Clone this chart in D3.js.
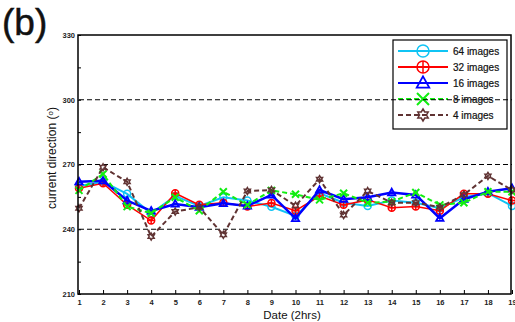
<!DOCTYPE html>
<html>
<head>
<meta charset="utf-8">
<script src="https://cdn.jsdelivr.net/npm/d3@7"></script>
<style>
  body { margin: 0; background: #fff; }
  svg { display: block; font-family: "Liberation Sans", Arial, sans-serif; }
</style>
</head>
<body>
<div id="chart"></div>
<script>
"use strict";

// x positions (Date, 2hrs)
var dates = d3.range(1, 20);
var yTicks = [210, 240, 270, 300, 330];
var gridLines = [240, 270, 300];

// current direction readings per image count
var img64 = [260, 262, 256.4, 247.4, 255.4, 250.8, 254.8, 253.3, 250.4, 246.2, 256.7, 252.3, 250.8, 253.3, 252.3, 249.7, 254.8, 256.7, 250.8];
var img32 = [259, 261.3, 251.3, 244, 256.7, 251.3, 252.3, 250.5, 252.2, 248.6, 255.4, 251.3, 253.6, 250, 250.5, 248.6, 256.4, 256.4, 253.3];
var img16 = [262, 262.5, 253.3, 248.5, 251.7, 250.2, 252, 250.8, 255.9, 245, 258.2, 253.9, 254.8, 257, 255.9, 245.1, 253.9, 257.4, 259];
var img8  = [258, 265.6, 250.5, 247.4, 254.8, 248.6, 257.4, 251.3, 258, 256.2, 253.6, 256.7, 252.3, 252.8, 257, 251.3, 252.3, 257.4, 257.4];
var img4  = [249.7, 268.7, 262, 236.6, 248.2, 250.2, 237.4, 257.7, 258.2, 250.9, 263.2, 246.6, 257.7, 252.3, 252.3, 250.2, 256, 264.7, 258.2];

var seriesNames = ["64 images", "32 images", "16 images", "8 images", "4 images"];
var seriesColors = ["#10c4f4", "#ff0000", "#0000ff", "#11ee11", "#603333"];
var seriesMarkers = ["circle", "circleplus", "triangle", "x", "hexagram"];
var seriesDashed = [false, false, false, true, true];
var seriesWidths = [2, 1.5, 2.5, 2, 2];

var series = [img64, img32, img16, img8, img4].map(function (vals, i) {
  return {
    name: seriesNames[i],
    color: seriesColors[i],
    marker: seriesMarkers[i],
    dashed: seriesDashed[i],
    width: seriesWidths[i],
    values: vals.map(function (v, j) { return { x: dates[j], y: v }; })
  };
});

var width = 515, height = 322;
var margin = { top: 35, right: 4, bottom: 28, left: 78 };

var svg = d3.select("#chart").append("svg")
  .attr("width", width)
  .attr("height", height);

var x = d3.scaleLinear().domain([1, 19]).range([margin.left + 1, 512]);
var y = d3.scaleLinear().domain([210, 330]).range([height - margin.bottom, margin.top]);

/** draws one marker shape centred at 0,0 */
function drawMarker(g, kind, color, r) {
  if (kind === "circle") {
    g.append("circle").attr("r", r).attr("fill", "none")
      .attr("stroke", color).attr("stroke-width", 1.5);
  } else if (kind === "circleplus") {
    g.append("circle").attr("r", r).attr("fill", "none")
      .attr("stroke", color).attr("stroke-width", 1.5);
    g.append("path").attr("d", "M" + (-r) + ",0H" + r + "M0," + (-r) + "V" + r)
      .attr("stroke", color).attr("stroke-width", 1.5);
  } else if (kind === "triangle") {
    var h = r * 1.1;
    g.append("path")
      .attr("d", "M0," + (-h) + "L" + (h * 0.95) + "," + (h * 0.7) + "L" + (-h * 0.95) + "," + (h * 0.7) + "Z")
      .attr("fill", "none").attr("stroke", color).attr("stroke-width", 1.8);
  } else if (kind === "x") {
    g.append("path")
      .attr("d", "M" + (-r) + "," + (-r) + "L" + r + "," + r + "M" + (-r) + "," + r + "L" + r + "," + (-r))
      .attr("stroke", color).attr("stroke-width", 2);
  } else if (kind === "hexagram") {
    var pts = d3.range(12).map(function (i) {
      var rad = i % 2 === 0 ? r : r * 0.58;
      var a = (-90 + i * 30) * Math.PI / 180;
      return [rad * Math.cos(a), rad * Math.sin(a)];
    });
    g.append("path").attr("d", "M" + pts.join("L") + "Z")
      .attr("fill", "none").attr("stroke", color).attr("stroke-width", 1.5);
  }
}

// dashed grid lines at 240 and 270 (300 drawn later, above legend)
svg.selectAll(".grid").data(gridLines.filter(function (d) { return d !== 300; }))
  .enter().append("line")
  .attr("class", "grid")
  .attr("x1", x(1)).attr("x2", x(19))
  .attr("y1", function (d) { return y(d); })
  .attr("y2", function (d) { return y(d); })
  .attr("stroke", "#000").attr("stroke-width", 1.2)
  .attr("stroke-dasharray", "5,3");

// series lines
var line = d3.line().x(function (d) { return x(d.x); }).y(function (d) { return y(d.y); });

series.forEach(function (s) {
  var g = svg.append("g");
  g.append("path")
    .datum(s.values)
    .attr("d", line)
    .attr("fill", "none")
    .attr("stroke", s.color)
    .attr("stroke-width", s.width)
    .attr("stroke-dasharray", s.dashed ? "5,3" : null);
  s.values.forEach(function (d) {
    var m = g.append("g").attr("transform", "translate(" + x(d.x) + "," + y(d.y) + ")");
    drawMarker(m, s.marker, s.color, 3.5);
  });
});

// axes
var yAxis = d3.axisLeft(y).tickValues(d3.range(210, 331, 15)).tickSize(-3)
  .tickFormat(function (d) { return yTicks.indexOf(d) >= 0 ? d : ""; });
var gy = svg.append("g").attr("transform", "translate(" + margin.left + ",0)").call(yAxis);
gy.select(".domain").remove();
gy.selectAll("text").attr("x", -3).style("font-size", "7.5px").style("font-weight", "bold").attr("fill", "#222");

var xAxis = d3.axisBottom(x).tickValues(dates).tickSize(-4).tickFormat(d3.format("d"));
var gx = svg.append("g").attr("transform", "translate(0," + y(210) + ")").call(xAxis);
gx.select(".domain").remove();
gx.selectAll("text").attr("y", 6).style("font-size", "7.5px").style("font-weight", "bold").attr("fill", "#222");

// plot frame
svg.append("rect")
  .attr("x", margin.left).attr("y", y(330))
  .attr("width", 511 - margin.left).attr("height", y(210) - y(330))
  .attr("fill", "none").attr("stroke", "#000").attr("stroke-width", 1.5);

// legend
var legend = svg.append("g").attr("transform", "translate(393,40)");
legend.append("rect").attr("width", 114).attr("height", 89)
  .attr("fill", "#fff").attr("stroke", "#000").attr("stroke-width", 1.2);
series.forEach(function (s, i) {
  var ly = 11 + i * 16;
  legend.append("line").attr("x1", 5).attr("x2", 55).attr("y1", ly).attr("y2", ly)
    .attr("stroke", s.color).attr("stroke-width", 1.8)
    .attr("stroke-dasharray", s.dashed ? "5,3" : null);
  var m = legend.append("g").attr("transform", "translate(30," + ly + ")");
  drawMarker(m, s.marker, s.color, 6);
  legend.append("text").attr("x", 60).attr("y", ly + 3.5)
    .style("font-size", "10px").attr("fill", "#111")
    .attr("stroke", "#111").attr("stroke-width", 0.2)
    .text(s.name);
});

// 300 dashed line, drawn over the legend like in the original
svg.append("line")
  .attr("x1", x(1)).attr("x2", x(19))
  .attr("y1", y(300)).attr("y2", y(300))
  .attr("stroke", "#000").attr("stroke-width", 1.2)
  .attr("stroke-dasharray", "5,3");

// labels
svg.append("text")
  .attr("transform", "translate(56,158) rotate(-90)")
  .attr("text-anchor", "middle")
  .style("font-size", "12px")
  .attr("fill", "#111")
  .html('current direction (<tspan dy="-3.5" font-size="8px">o</tspan><tspan dy="3.5">)</tspan>');

svg.append("text")
  .attr("x", 292).attr("y", 319)
  .attr("text-anchor", "middle")
  .style("font-size", "11.5px")
  .attr("fill", "#111")
  .text("Date (2hrs)");

svg.append("text")
  .attr("x", 2).attr("y", 35)
  .style("font-size", "37px")
  .attr("fill", "#111")
  .attr("stroke", "#111").attr("stroke-width", 0.5)
  .text("(b)");
</script>
</body>
</html>
